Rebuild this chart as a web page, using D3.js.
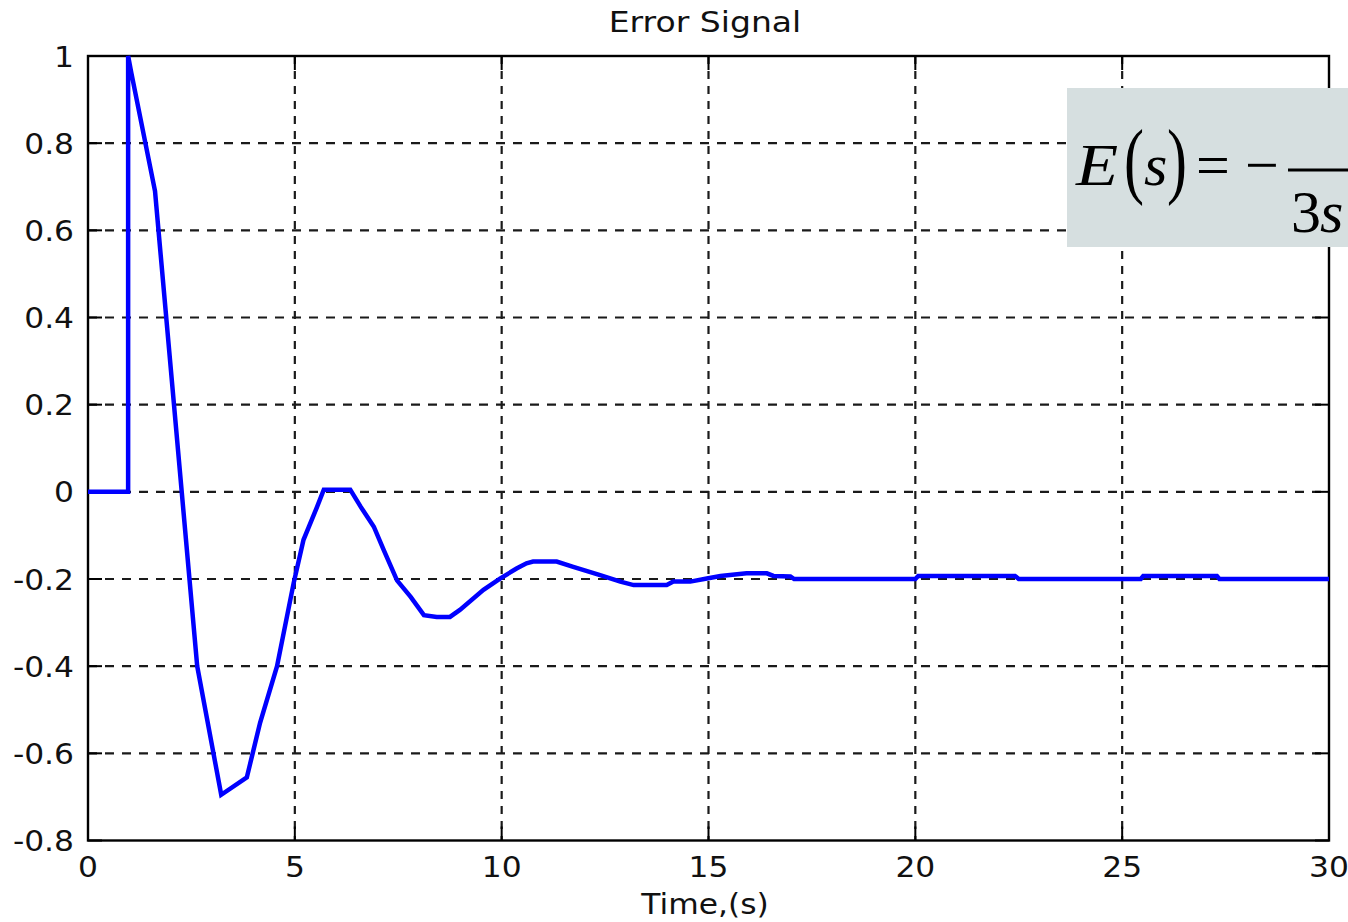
<!DOCTYPE html>
<html>
<head>
<meta charset="utf-8">
<script src="https://cdn.jsdelivr.net/npm/d3@7"></script>
<style>
  html, body { margin: 0; padding: 0; background: #fff; }
  svg { display: block; }
</style>
</head>
<body>
<svg id="chart" width="1348" height="922"></svg>
<script>
// Error signal samples (time in seconds, error amplitude)
const timeValues = [0, 0.97, 0.97, 1.05, 1.62, 2.64, 3.22, 3.84, 4.16, 4.57, 4.97, 5.21, 5.54, 5.70, 6.34, 6.59, 6.91, 7.15, 7.47, 7.80, 8.12, 8.43, 8.75, 8.99, 9.56, 9.96, 10.36, 10.60, 10.76, 11.33, 11.73, 12.38, 12.87, 13.19, 13.99, 14.15, 14.56, 14.96, 15.29, 15.92, 16.41, 16.57, 16.98, 17.07, 20.0, 20.07, 22.41, 22.5, 25.45, 25.51, 27.29, 27.35, 30];
const errorValues = [0, 0, 1.0, 0.96, 0.69, -0.40, -0.695, -0.655, -0.53, -0.40, -0.21, -0.11, -0.034, 0.005, 0.005, -0.034, -0.08, -0.134, -0.203, -0.241, -0.283, -0.287, -0.287, -0.271, -0.225, -0.199, -0.176, -0.164, -0.160, -0.160, -0.172, -0.191, -0.206, -0.214, -0.214, -0.206, -0.206, -0.199, -0.193, -0.187, -0.187, -0.193, -0.194, -0.2, -0.2, -0.193, -0.193, -0.2, -0.2, -0.193, -0.193, -0.2, -0.2];

const xTicks = [0, 5, 10, 15, 20, 25, 30];
const yTicks = [1, 0.8, 0.6, 0.4, 0.2, 0, -0.2, -0.4, -0.6, -0.8];

const titleText = "Error Signal";
const xLabelText = "Time,(s)";

const svg = d3.select("#chart");
const plotLeft = 88, plotRight = 1329, plotTop = 56, plotBottom = 840.5;

const x = d3.scaleLinear().domain([0, 30]).range([plotLeft, plotRight]);
const y = d3.scaleLinear().domain([-0.8, 1]).range([plotBottom, plotTop]);

const labelFont = "'DejaVu Sans', sans-serif";
const stretch = 1.08;

// grid lines
const grid = svg.append("g");
grid.selectAll("line.gx").data(xTicks.filter(d => d > 0 && d < 30)).enter()
  .append("line")
  .attr("x1", d => x(d)).attr("x2", d => x(d))
  .attr("y1", plotTop).attr("y2", plotBottom)
  .attr("stroke", "#1a1a1a").attr("stroke-width", 2.2)
  .attr("stroke-dasharray", "8,7");
grid.selectAll("line.gy").data(yTicks.filter(d => d > -0.8 && d < 1)).enter()
  .append("line")
  .attr("x1", plotLeft).attr("x2", plotRight)
  .attr("y1", d => y(d)).attr("y2", d => y(d))
  .attr("stroke", "#1a1a1a").attr("stroke-width", 2.2)
  .attr("stroke-dasharray", "9,8");

// inward tick marks on all four sides
const tickLen = 14;
const ticks = svg.append("g").attr("stroke", "#000").attr("stroke-width", 2);
xTicks.forEach(d => {
  ticks.append("line").attr("x1", x(d)).attr("x2", x(d)).attr("y1", plotBottom).attr("y2", plotBottom - tickLen);
  ticks.append("line").attr("x1", x(d)).attr("x2", x(d)).attr("y1", plotTop).attr("y2", plotTop + tickLen);
});
yTicks.forEach(d => {
  ticks.append("line").attr("x1", plotLeft).attr("x2", plotLeft + tickLen).attr("y1", y(d)).attr("y2", y(d));
  ticks.append("line").attr("x1", plotRight).attr("x2", plotRight - tickLen).attr("y1", y(d)).attr("y2", y(d));
});

// axes box
svg.append("rect")
  .attr("x", plotLeft).attr("y", plotTop)
  .attr("width", plotRight - plotLeft).attr("height", plotBottom - plotTop)
  .attr("fill", "none").attr("stroke", "#000").attr("stroke-width", 2.4);

// signal trace
const pts = timeValues.map((t, i) => [t, errorValues[i]]);
const line = d3.line().x(d => x(d[0])).y(d => y(d[1]));
svg.append("defs").append("clipPath").attr("id", "plotClip")
  .append("rect").attr("x", plotLeft).attr("y", plotTop - 2).attr("width", plotRight - plotLeft).attr("height", plotBottom - plotTop + 4);
svg.append("path")
  .datum(pts)
  .attr("d", line)
  .attr("clip-path", "url(#plotClip)")
  .attr("fill", "none")
  .attr("stroke", "#0000ff")
  .attr("stroke-width", 4.5)
  .attr("stroke-linejoin", "miter");

// tick labels
const labels = svg.append("g").attr("font-family", labelFont).attr("font-size", 29).attr("fill", "#111");
xTicks.forEach(d => {
  labels.append("text")
    .attr("transform", `translate(${x(d)},877) scale(${stretch},1)`)
    .attr("text-anchor", "middle")
    .text(d3.format("d")(d));
});
yTicks.forEach(d => {
  labels.append("text")
    .attr("transform", `translate(74,${y(d) + 10.5}) scale(${stretch},1)`)
    .attr("text-anchor", "end")
    .text(d === 0 ? "0" : String(d));
});

// title and axis label
svg.append("text")
  .attr("transform", `translate(705,31.5) scale(1.14,1)`)
  .attr("text-anchor", "middle")
  .attr("font-family", labelFont).attr("font-size", 29).attr("fill", "#111")
  .text(titleText);
svg.append("text")
  .attr("transform", `translate(705,914) scale(${stretch},1)`)
  .attr("text-anchor", "middle")
  .attr("font-family", labelFont).attr("font-size", 29).attr("fill", "#111")
  .text(xLabelText);

// transfer function annotation
const box = svg.append("g");
box.append("rect")
  .attr("x", 1067).attr("y", 88).attr("width", 290).attr("height", 159)
  .attr("fill", "#d6dfe0");
const serif = "'Liberation Serif', 'Times New Roman', serif";
const eq = box.append("g").attr("font-family", serif).attr("fill", "#000").attr("font-size", 60);
eq.append("text").attr("transform", "translate(1076,185) scale(1.15,1)").attr("font-style", "italic").text("E");
eq.append("text").attr("transform", "translate(1124,188) scale(1,1.4)").text("(");
eq.append("text").attr("transform", "translate(1144,185)").attr("font-style", "italic").text("s");
eq.append("text").attr("transform", "translate(1167,188) scale(1,1.4)").text(")");
eq.append("text").attr("transform", "translate(1196,185)").text("=");
eq.append("text").attr("transform", "translate(1245,185)").text("\u2212");
box.append("line").attr("x1", 1288).attr("x2", 1360).attr("y1", 170).attr("y2", 170)
  .attr("stroke", "#000").attr("stroke-width", 3);
eq.append("text").attr("transform", "translate(1291,232)").text("3");
eq.append("text").attr("transform", "translate(1320,232)").attr("font-style", "italic").text("s");
</script>
</body>
</html>
